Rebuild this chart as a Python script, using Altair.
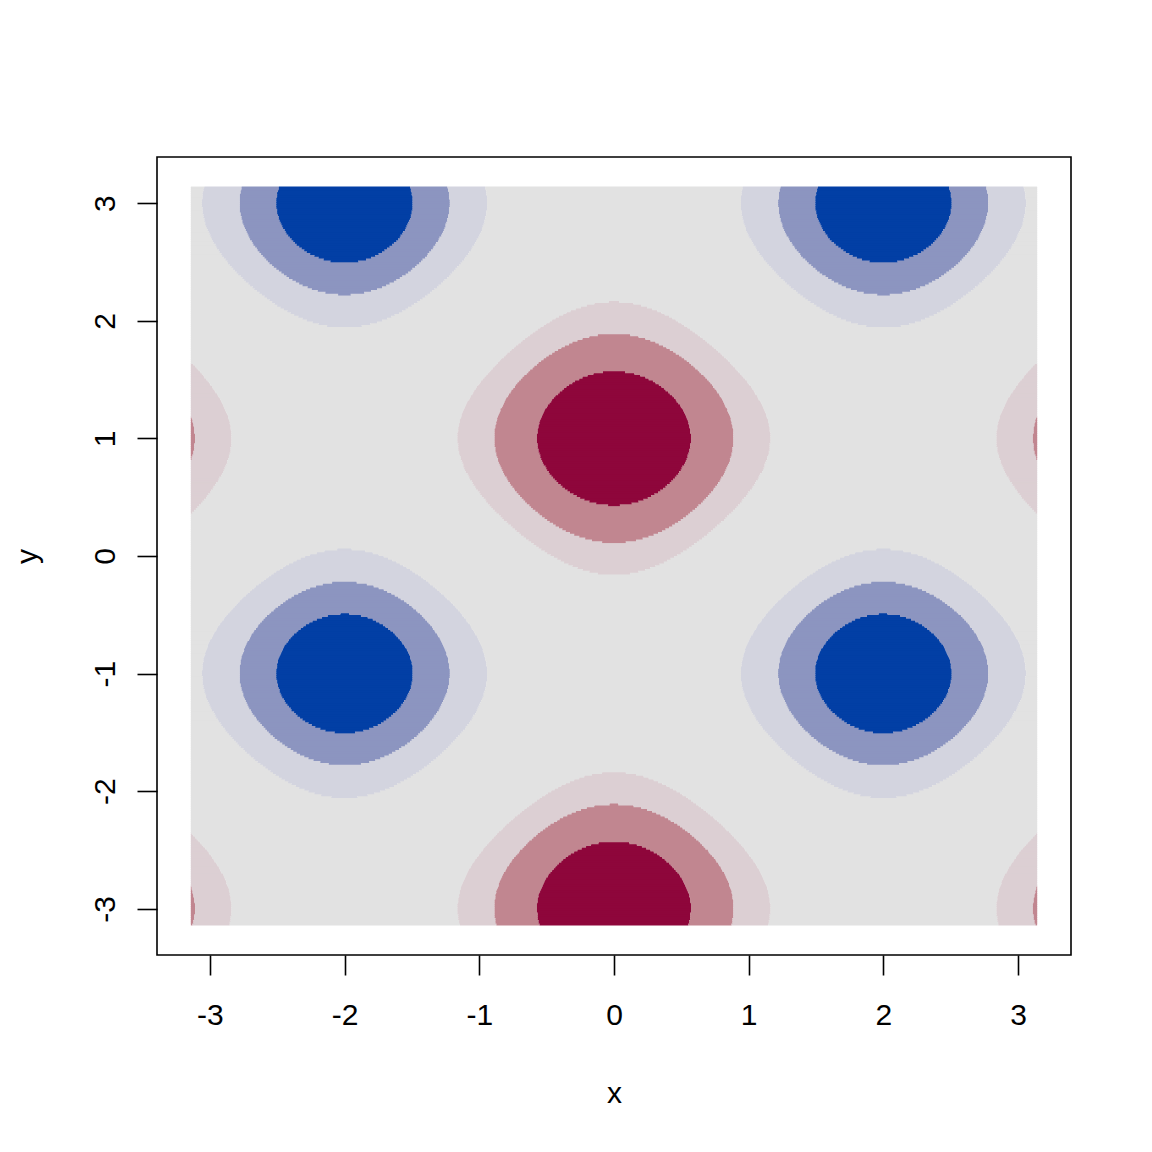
import altair as alt
import numpy as np
import pandas as pd

# ---- values ----
x_ticks = [-3, -2, -1, 0, 1, 2, 3]
y_ticks = [-3, -2, -1, 0, 1, 2, 3]
# contour break levels (read from ring radii)
levels = [-1.70, -1.34, -0.91, 0.75, 1.175, 1.625]
band_colors = ["#023FA5", "#8C95C0", "#D3D4DF", "#E2E2E2",
               "#DCCFD3", "#C18690", "#8E063B"]
# field: cos waves with period 4 in x and y, red peak row at y = 1
period = 4.0
y_center = 1.0
x_range = [-np.pi, np.pi]
y_range = [-np.pi, np.pi]

nx, ny = 1000, 400
xe = np.linspace(x_range[0], x_range[1], nx + 1)
ye = np.linspace(y_range[0], y_range[1], ny + 1)
xc = (xe[:-1] + xe[1:]) / 2
yc = (ye[:-1] + ye[1:]) / 2
Z = np.cos(2 * np.pi * xc[None, :] / period) + np.cos(2 * np.pi * (yc[:, None] - y_center) / period)
B = np.digitize(Z, levels)

dy = ye[1] - ye[0]
recs = []
for j in range(ny):
    b = B[j]
    change = np.flatnonzero(np.diff(b)) + 1
    starts = np.r_[0, change]
    ends = np.r_[change, nx]
    top = float(ye[j + 1]) + (0.6 * dy if j < ny - 1 else 0.0)
    for s, e in zip(starts, ends):
        recs.append((float(xe[s]), float(xe[e]), float(ye[j]), top, int(b[s])))
df = pd.DataFrame(recs, columns=["x0", "x1", "y0", "y1", "band"])

pad = 0.04 * 2 * np.pi
xdom = [x_range[0] - pad, x_range[1] + pad]
ydom = [y_range[0] - pad, y_range[1] + pad]

font = "Liberation Sans"
fs = 30

chart = alt.Chart(df).mark_rect().encode(
    x=alt.X("x0:Q", scale=alt.Scale(domain=xdom, nice=False, zero=False),
            axis=alt.Axis(values=x_ticks, title="x", labelBaseline="alphabetic",
                          labelPadding=49, titleBaseline="alphabetic",
                          labelExpr="'' + datum.value",
                          titleX=457, titleY=147)),
    x2="x1:Q",
    y=alt.Y("y0:Q", scale=alt.Scale(domain=ydom, nice=False, zero=False),
            axis=alt.Axis(values=y_ticks, title="y", labelAngle=-90, labelAlign="center",
                          labelBaseline="alphabetic", labelPadding=22.5,
                          labelExpr="'' + datum.value",
                          titleBaseline="alphabetic", titleAngle=-90,
                          titleX=-121, titleY=399)),
    y2="y1:Q",
    color=alt.Color("band:O", scale=alt.Scale(domain=list(range(7)), range=band_colors), legend=None),
).properties(
    width=914, height=798,
    padding={"left": 149, "top": 149, "right": 73, "bottom": 189},
    autosize=alt.AutoSizeParams(type="none"),
).configure_view(
    stroke="black", strokeWidth=1.6
).configure_axis(
    grid=False, domain=False, tickColor="black", tickWidth=1.6, tickSize=20,
    labelFont=font, labelFontSize=fs, labelColor="black",
    titleFont=font, titleFontSize=fs, titleColor="black", titleFontWeight="normal",
    labelFlush=False, labelOverlap=False
)

chart.save("out.html", embed_options={"renderer": "svg", "actions": False})
